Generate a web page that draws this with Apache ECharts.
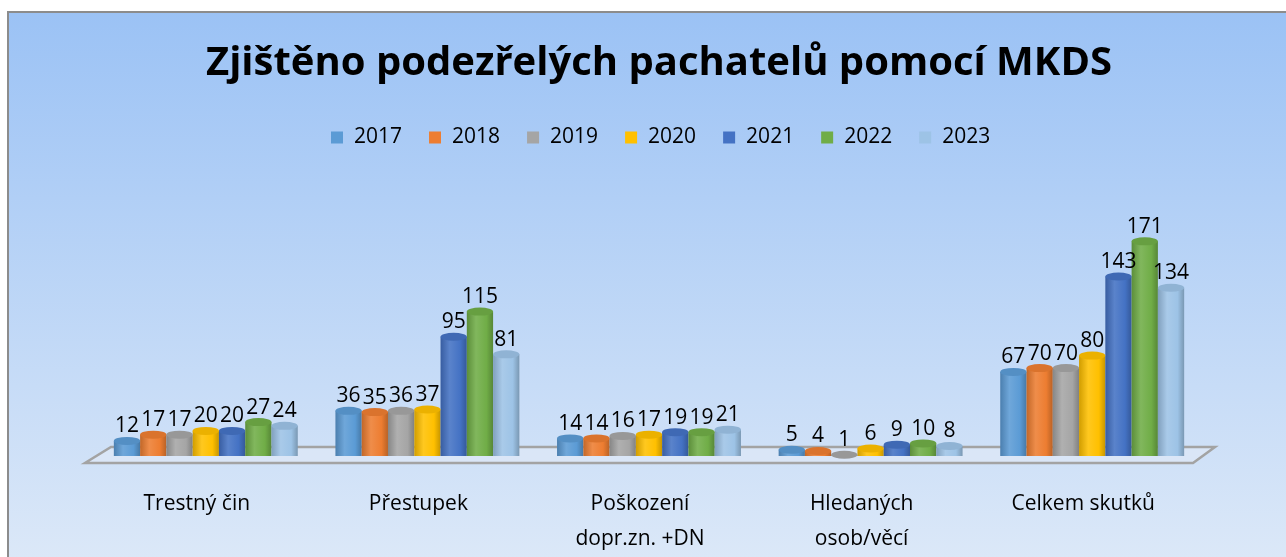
<!DOCTYPE html>
<html><head><meta charset="utf-8">
<script src="https://cdn.jsdelivr.net/npm/echarts@6/dist/echarts.min.js"></script>
<style>html,body{margin:0;padding:0;background:#fff}#c{width:1286px;height:557px}</style>
</head><body><div id="c"></div>
<script>
const categories = ['Trestný čin', 'Přestupek', 'Poškození\ndopr.zn. +DN', 'Hledaných\nosob/věcí', 'Celkem skutků'];
const years = ['2017', '2018', '2019', '2020', '2021', '2022', '2023'];
const v2017 = [12, 36, 14, 5, 67];
const v2018 = [17, 35, 14, 4, 70];
const v2019 = [17, 36, 16, 1, 70];
const v2020 = [20, 37, 17, 6, 80];
const v2021 = [20, 95, 19, 9, 143];
const v2022 = [27, 115, 19, 10, 171];
const v2023 = [24, 81, 21, 8, 134];
const values = [v2017, v2018, v2019, v2020, v2021, v2022, v2023];
const colors = ['#5B9BD5', '#ED7D31', '#A5A5A5', '#FFC000', '#4472C4', '#70AD47', '#9DC3E6'];

function shade(hex, f) {
  const n = parseInt(hex.slice(1), 16);
  let r = (n >> 16) & 255, g = (n >> 8) & 255, b = n & 255;
  if (f < 0) { r = r * (1 + f); g = g * (1 + f); b = b * (1 + f); }
  else { r = r + (255 - r) * f; g = g + (255 - g) * f; b = b + (255 - b) * f; }
  return 'rgb(' + Math.round(r) + ',' + Math.round(g) + ',' + Math.round(b) + ')';
}
function cyl(hex) {
  return new echarts.graphic.LinearGradient(0, 0, 1, 0, [
    { offset: 0, color: shade(hex, -0.18) },
    { offset: 0.35, color: shade(hex, 0.12) },
    { offset: 0.75, color: hex },
    { offset: 1, color: shade(hex, -0.22) }
  ]);
}

const FONT = "'Open Sans', 'Noto Sans', sans-serif";
const series = [];
years.forEach((y, i) => {
  series.push({
    type: 'bar', name: y, data: values[i],
    barGap: '0%', barCategoryGap: '17%',
    itemStyle: { color: cyl(colors[i]) },
    label: { show: true, position: 'top', distance: 4, color: '#000', fontSize: 21, fontFamily: FONT },
    z: 2
  });
});
years.forEach((y, i) => {
  series.push({
    type: 'pictorialBar', name: y, data: values[i],
    barGap: '0%', barCategoryGap: '17%',
    symbol: 'circle', symbolPosition: 'end', symbolSize: ['100%', 8], symbolOffset: [0, '-50%'],
    itemStyle: { color: shade(colors[i], -0.08) },
    z: 3, silent: true
  });
});

const chart = echarts.init(document.getElementById('c'), null, { renderer: 'canvas' });
chart.setOption({
  backgroundColor: '#fff',
  animation: false,
  graphic: [
    { type: 'rect', z: -10, shape: { x: 8, y: 12, width: 1290, height: 560 },
      style: { fill: new echarts.graphic.LinearGradient(0, 0, 0, 1, [
        { offset: 0, color: '#9bc2f5' }, { offset: 1, color: '#dde9f8' }]),
        stroke: '#8c8c8c', lineWidth: 2 } },
    { type: 'polygon', z: -5, shape: { points: [[111, 447], [1215, 447], [1193, 463], [85, 463]] },
      style: { fill: 'rgba(225,234,247,0.6)', stroke: '#a3a3a3', lineWidth: 2.5 } }
  ],
  title: {
    text: 'Zjištěno podezřelých pachatelů pomocí MKDS', left: 201, top: 39,
    textStyle: { fontFamily: FONT, fontWeight: 'bold', fontSize: 40, color: '#000' }
  },
  legend: {
    top: 122, left: 326, itemWidth: 12, itemHeight: 12, itemGap: 27, icon: 'rect',
    data: years.map((y, i) => ({ name: y, itemStyle: { color: colors[i] } })),
    textStyle: { fontFamily: FONT, fontSize: 21, color: '#000', padding: [0, 0, 0, 6] }
  },
  grid: { left: 95, right: 83, top: 230, bottom: 100 },
  xAxis: {
    type: 'category', data: categories,
    axisLine: { show: false }, axisTick: { show: false },
    axisLabel: { color: '#000', fontFamily: FONT, fontSize: 21, margin: 31, lineHeight: 35,
      interval: 0, padding: [0, 18, 0, 0] }
  },
  yAxis: { type: 'value', min: 0, max: 180, show: false, splitLine: { show: false } },
  series: series
});
</script></body></html>
